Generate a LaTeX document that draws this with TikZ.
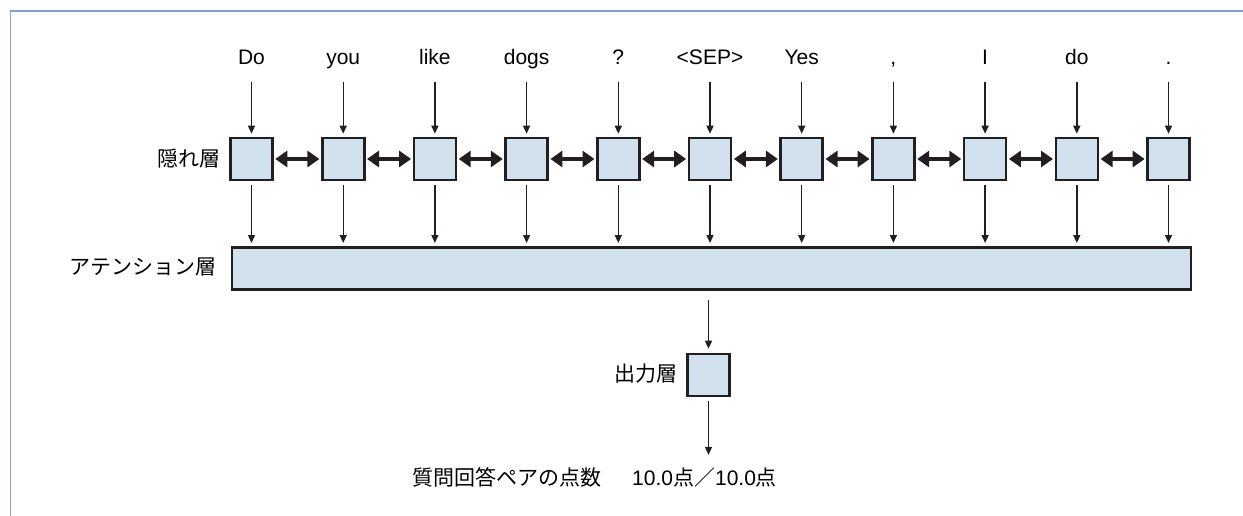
\documentclass[tikz,border=0pt]{standalone}
\usepackage{fontspec}
\setmainfont{Liberation Sans}
\newfontfamily\jp{Noto Sans CJK JP}
\usetikzlibrary{arrows.meta}
\definecolor{boxfill}{RGB}{209,225,237}
\definecolor{boxline}{RGB}{35,31,32}
\definecolor{frameblue}{RGB}{125,164,214}
\tikzset{
  hbox/.style={draw=boxline, line width=2.6pt, fill=boxfill, minimum width=42pt, minimum height=42pt, inner sep=0pt},
  word/.style={inner sep=0pt, text height=15pt, text depth=5pt, anchor=base, font=\fontsize{21}{24}\selectfont},
  lab/.style={inner sep=0pt, font=\jp\fontsize{21}{24}\selectfont},
  arr/.style={draw=boxline, line width=1.4pt, -{Triangle[length=8pt,width=7pt]}},
  dbl/.style={draw=boxline, line width=3.2pt, {Triangle[length=12pt,width=16pt]}-{Triangle[length=12pt,width=16pt]}},
}
\begin{document}
\begin{tikzpicture}[x=1pt,y=-1pt]
\useasboundingbox (0,0) rectangle (1243,516);
\draw[frameblue, line width=1.5pt] (10.5,520) -- (10.5,11) -- (1250,11);
\foreach \w [count=\i] in {Do,you,like,dogs,?,<SEP>,Yes,{,},I,do,.}{
  \pgfmathsetmacro{\xx}{251.5+(\i-1)*91.7}
  \node[hbox] (h\i) at (\xx,159) {};
  \node[word] (w\i) at (\xx,65) {\w};
  \draw[arr, shorten <=12pt, shorten >=3pt] (w\i.south) -- (h\i.north);
}
\foreach \i [count=\j from 2] in {1,...,10}{
  \draw[dbl, shorten <=1.5pt, shorten >=1.5pt] (h\i.east) -- (h\j.west);
}
\node[hbox, minimum width=959pt, anchor=north west] (att) at (230.5,246) {};
\foreach \i in {1,...,11}{
  \draw[arr, shorten <=4pt, shorten >=3pt] (h\i.south) -- (h\i.south |- att.north);
}
\node[hbox] (out) at (708.5,375) {};
\draw[arr, shorten <=9pt, shorten >=4pt] (out.north |- att.south) -- (out.north);
\node[lab, anchor=east] (lh) at (221,159) {隠れ層};
\node[lab, anchor=east] (la) at (217,267) {アテンション層};
\node[lab, anchor=east] (lo) at (678,374) {出力層};
\node[lab, anchor=west] (score) at (412,477) {質問回答ペアの点数\hspace{31pt}{\rmfamily 10.0}点／{\rmfamily 10.0}点};
\draw[arr, shorten <=4pt, shorten >=12pt] (out.south) -- (out.south |- score.north);
\end{tikzpicture}
\end{document}
